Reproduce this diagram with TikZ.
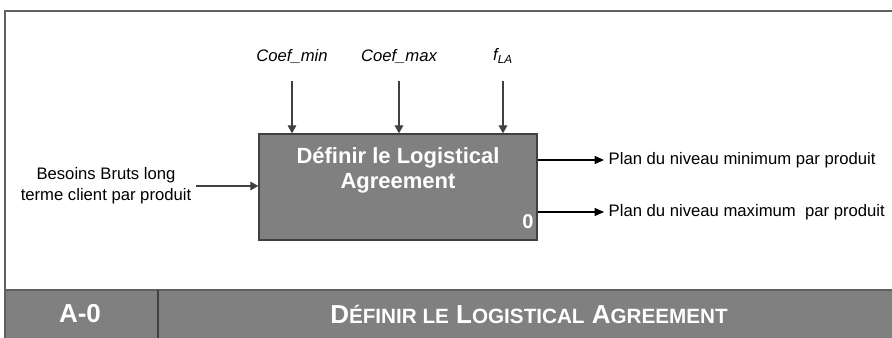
\documentclass[tikz,border=0pt]{standalone}
\usepackage{fontspec}
\setmainfont{Liberation Sans}
\usetikzlibrary{arrows.meta, positioning, calc}
\definecolor{boxgray}{RGB}{128,128,128}
\definecolor{linegray}{RGB}{64,64,64}
\definecolor{framegray}{RGB}{96,96,96}
\newcommand{\fakesc}[2]{#1{\fontsize{15.5}{17}\selectfont #2}}
\tikzset{
  activity/.style={rectangle, draw=linegray, fill=boxgray,
    minimum width=208.5pt, minimum height=79.5pt, line width=1pt},
  boxtitle/.style={align=center, text=white,
    font=\fontsize{16.5}{18.5}\selectfont\bfseries},
  boxnum/.style={text=white, inner sep=0pt,
    font=\fontsize{15}{17}\selectfont\bfseries},
  ctrl/.style={font=\fontsize{12.5}{14}\selectfont\itshape},
  flow/.style={font=\fontsize{12.5}{15.5}\selectfont},
  footer/.style={text=white, font=\fontsize{19.5}{21}\selectfont\bfseries},
  arrow/.style={-{Triangle[length=6pt, width=6.5pt]}, line width=0.8pt, color=linegray},
  outarrow/.style={-{Triangle[length=7pt, width=6pt]}, line width=0.8pt, color=black}
}
\begin{document}
\begin{tikzpicture}[x=0.75pt, y=-0.75pt]
  \useasboundingbox (0,0) rectangle (892,338);
  % frame and footer band
  \fill[boxgray] (5,290) rectangle (894,339);
  \draw[framegray, line width=1.5pt] (5,339) -- (5,11) -- (894,11);
  \draw[framegray, line width=1.5pt] (5,290) -- (894,290);
  \draw[linegray, line width=1.5pt] (158,290) -- (158,339);

  \node[activity] (fn) at (398,187) {};
  \node[boxtitle, below=7pt of fn.north] (fntitle) {Définir le Logistical\\Agreement};
  \node[boxnum, above left=9pt and 3pt of fn.south east] (fnnum) {0};

  \node[ctrl] (cmin) at (292,56) {Coef\_min};
  \node[ctrl] (cmax) at (399,56) {Coef\_max};
  \node[ctrl] (fla) at (503,56) {f\textsubscript{\itshape LA}};

  \node[flow, align=center] (need) at (106,186) {Besoins Bruts long\\terme client par produit};

  \node[flow, anchor=west] (outmin) at (604,160) {Plan du niveau minimum par produit};
  \node[flow, anchor=west] (outmax) at (604,212) {Plan du niveau maximum\ \ par produit};

  \draw[arrow, shorten <=10pt] (cmin) -- (cmin |- fn.north);
  \draw[arrow, shorten <=10pt] (cmax) -- (cmax |- fn.north);
  \draw[arrow, shorten <=10pt] (fla) -- (fla |- fn.north);
  \draw[arrow] (need) -- (need -| fn.west);
  \draw[outarrow] (fn.east |- outmin) -- (outmin);
  \draw[outarrow] (fn.east |- outmax) -- (outmax);

  \node[footer] (diag) at (80,314) {A-0};
  \node[footer] (ftitle) at (529,314) {\fakesc{D}{ÉFINIR LE} \fakesc{L}{OGISTICAL} \fakesc{A}{GREEMENT}};
\end{tikzpicture}
\end{document}
